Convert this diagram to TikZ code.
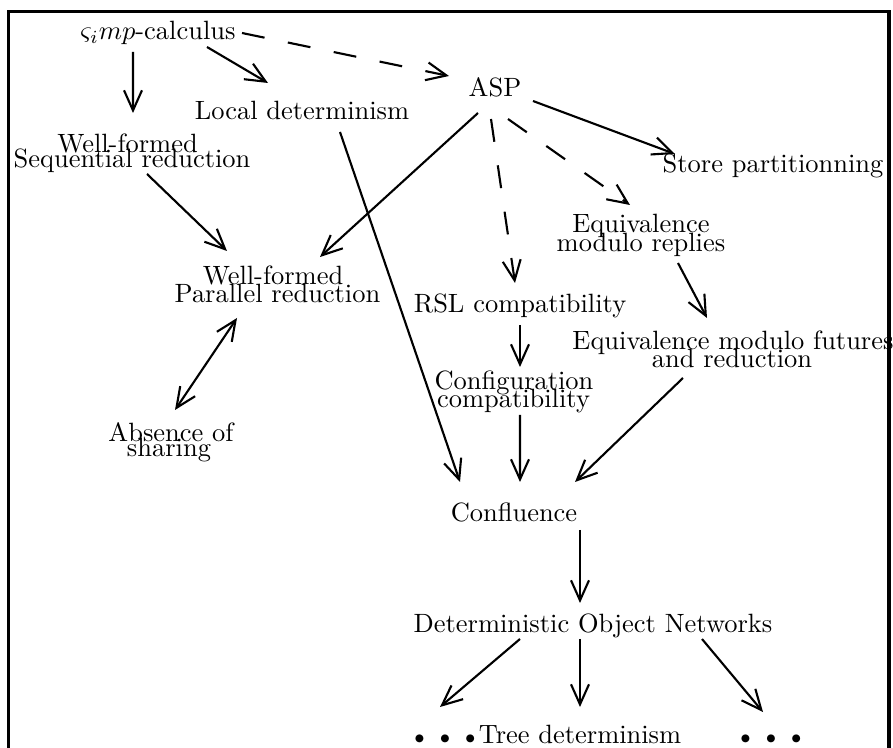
\documentclass[tikz,border=0pt]{standalone}
\usetikzlibrary{arrows.meta}
\newcommand\mybul{$\scriptstyle\bullet$}
\newcommand\threebul{\mybul\hspace{5.5pt}\mybul\hspace{5.5pt}\mybul}
\begin{document}
\begin{tikzpicture}[x=0.378pt,y=-0.378pt,
  lbl/.style={anchor=base,inner sep=0pt,outer sep=0pt},
  arr/.style={-{Straight Barb[length=7.6pt,width=6.8pt]},line width=0.8pt},
  darr/.style={arr,dash pattern=on 8.7pt off 9pt},
  barr/.style={{Straight Barb[length=7.6pt,width=6.8pt]}-{Straight Barb[length=7.6pt,width=6.8pt]},line width=0.8pt}]
\useasboundingbox (0,0) rectangle (893,748);
\draw[line width=1.25pt] (8.5,11.7) rectangle (889,770);
% nodes
\node[lbl] (calc) at (158,40) {$\varsigma_i mp$-calculus};
\node[lbl] (loc) at (302,120) {Local determinism};
\node[lbl] (asp) at (495,97) {ASP};
\node[lbl] (seqa) at (127.5,153) {Well-formed};
\node[lbl] (seqb) at (132,168) {Sequential reduction};
\node[lbl] (store) at (773,173) {Store partitionning};
\node[lbl] (eqra) at (641,233) {Equivalence};
\node[lbl] (eqrb) at (641,252) {modulo replies};
\node[lbl] (para) at (273,285) {Well-formed};
\node[lbl] (parb) at (277.5,303) {Parallel reduction};
\node[lbl] (rsl) at (520,313) {RSL compatibility};
\node[lbl] (cfga) at (514,390) {Configuration};
\node[lbl] (cfgb) at (513.5,408) {compatibility};
\node[lbl] (eqfa) at (733,350) {Equivalence modulo futures};
\node[lbl] (eqfb) at (732,368) {and reduction};
\node[lbl] (absa) at (171,442) {Absence of};
\node[lbl] (absb) at (169,457) {sharing};
\node[lbl] (conf) at (514,522) {Confluence};
\node[lbl] (don) at (593,633) {Deterministic Object Networks};
\node[lbl] (ldots) at (445,744) {\threebul};
\node[lbl] (tree) at (580,744) {Tree determinism};
\node[lbl] (rdots) at (771,744) {\threebul};
% connectors
\draw[arr] ([shift={(49,7)}]calc.base) -- ([shift={(-34,-37)}]loc.base);
\draw[arr] ([shift={(-25,12)}]calc.base) -- ([shift={(5.5,-40)}]seqa.base);
\draw[darr] ([shift={(84,-7)}]calc.base) -- ([shift={(-46,-21)}]asp.base);
\draw[arr] ([shift={(15,6)}]seqb.base) -- ([shift={(-46,-34)}]para.base);
\draw[arr] ([shift={(-17,16)}]asp.base) -- ([shift={(47,-28)}]para.base);
\draw[arr] ([shift={(38,12)}]loc.base) -- ([shift={(-54,-40)}]conf.base);
\draw[arr] ([shift={(38,4)}]asp.base) -- ([shift={(-98,-19)}]store.base);
\draw[darr] ([shift={(-4,22)}]asp.base) -- ([shift={(-5,-30)}]rsl.base);
\draw[darr] ([shift={(13,22)}]asp.base) -- ([shift={(-11,-28)}]eqra.base);
\draw[arr] ([shift={(0,12)}]rsl.base) -- ([shift={(6,-23)}]cfga.base);
\draw[arr] ([shift={(37,11)}]eqrb.base) -- ([shift={(-26,-32)}]eqfa.base);
\draw[arr] ([shift={(6.5,7)}]cfgb.base) -- ([shift={(6,-40)}]conf.base);
\draw[arr] ([shift={(-49,10)}]eqfb.base) -- ([shift={(61,-40)}]conf.base);
\draw[barr] ([shift={(-40.5,15)}]parb.base) -- ([shift={(4,-32)}]absa.base);
\draw[arr] ([shift={(66,8)}]conf.base) -- ([shift={(-13,-30)}]don.base);
\draw[arr] ([shift={(-73,6)}]don.base) -- ([shift={(-5,-37)}]ldots.base);
\draw[arr] ([shift={(-13,6)}]don.base) -- ([shift={(0,-37)}]tree.base);
\draw[arr] ([shift={(109,6)}]don.base) -- ([shift={(-8,-32)}]rdots.base);
\end{tikzpicture}
\end{document}
